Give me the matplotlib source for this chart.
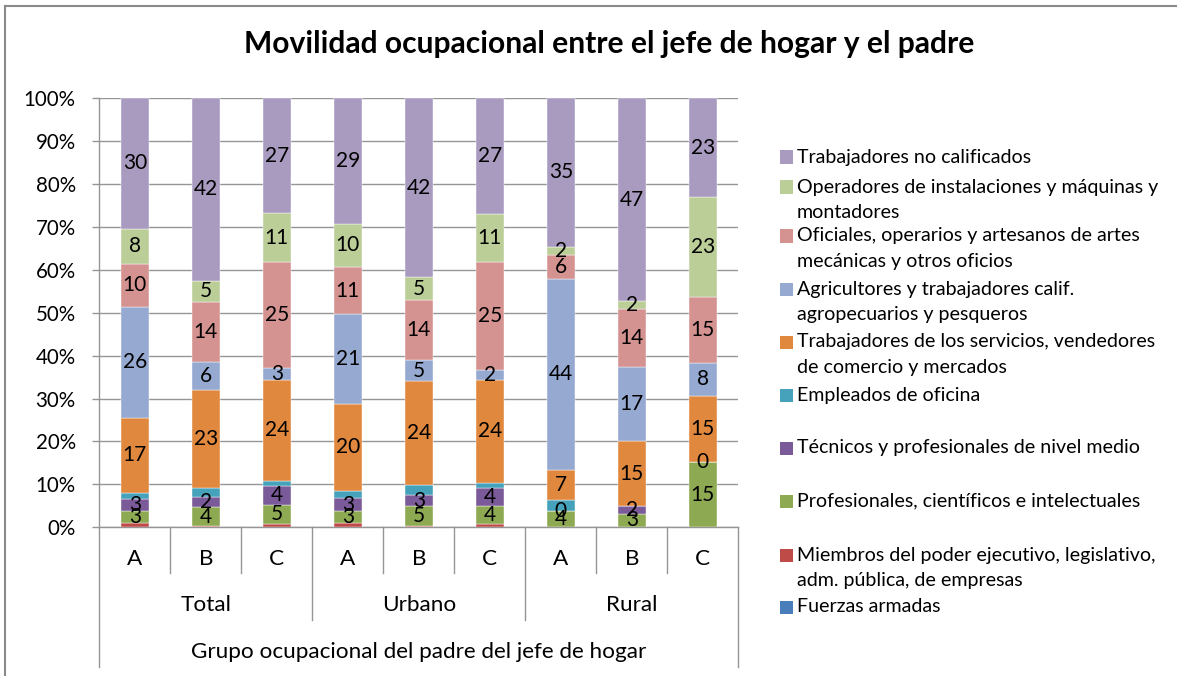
import matplotlib
matplotlib.use("Agg")
import matplotlib.pyplot as plt
import numpy as np
from matplotlib.transforms import blended_transform_factory
from matplotlib.patches import Rectangle
from matplotlib.lines import Line2D

# ---------------- data ----------------
title = "Movilidad ocupacional entre el jefe de hogar y el padre"
xlabel = "Grupo ocupacional del padre del jefe de hogar"
groups = ["Total", "Urbano", "Rural"]
subcats = ["A", "B", "C"]

series_names = [
    "Fuerzas armadas",
    "Miembros del poder ejecutivo, legislativo,\nadm. pública, de empresas",
    "Profesionales, científicos e intelectuales",
    "Técnicos y profesionales de nivel medio",
    "Empleados de oficina",
    "Trabajadores de los servicios, vendedores\nde comercio y mercados",
    "Agricultores y trabajadores calif.\nagropecuarios y pesqueros",
    "Oficiales, operarios y artesanos de artes\nmecánicas y otros oficios",
    "Operadores de instalaciones y máquinas y\nmontadores",
    "Trabajadores no calificados",
]

# values per series, categories: Total A,B,C, Urbano A,B,C, Rural A,B,C
fuerzas       = [0.0, 0.0, 0.0, 0.0, 0.0, 0.0, 0.0, 0.0, 0.0]
miembros      = [0.9, 0.3, 0.7, 1.1, 0.3, 0.8, 0.0, 0.0, 0.0]
profesionales = [2.9, 4.4, 4.6, 2.6, 4.6, 4.1, 3.8, 3.2, 15.2]
tecnicos      = [2.7, 2.4, 4.3, 3.2, 2.6, 4.3, 0.0, 1.7, 0.0]
empleados     = [1.5, 2.1, 1.3, 1.6, 2.3, 1.2, 2.5, 0.0, 0.0]
servicios     = [17.4, 22.8, 23.6, 20.2, 24.2, 23.9, 7.1, 15.1, 15.4]
agricultores  = [25.9, 6.4, 2.7, 20.9, 4.9, 2.4, 44.4, 17.2, 7.7]
oficiales     = [9.9, 14.0, 24.9, 11.1, 14.0, 25.0, 5.7, 13.6, 15.4]
operadores    = [8.2, 4.9, 11.3, 9.9, 5.4, 11.1, 1.8, 1.8, 23.2]
no_calif      = [30.4, 42.4, 27.0, 29.4, 41.8, 27.1, 34.7, 47.3, 23.1]

series_values = [fuerzas, miembros, profesionales, tecnicos, empleados,
                 servicios, agricultores, oficiales, operadores, no_calif]
labeled = [False, False, True, True, False, True, True, True, True, True]

colors = ["#4A7EBB", "#BE4B48", "#8DA951", "#7A5A98", "#46A2BB",
          "#E0883E", "#95A9D1", "#D49391", "#BBCE97", "#A99BBF"]

# ---------------- layout ----------------
W, H = 1177, 676
plt.rcParams['font.family'] = ['Lato', 'DejaVu Sans']
FS_TICK = 14.8
FS_DATA = 15.0
FS_CAT = 16.2
FS_LEG = 14.1
GRAY = "#959595"

fig = plt.figure(figsize=(W / 100, H / 100), dpi=100)
fig.patch.set_facecolor("white")


def fx(x):
    return x / W


def fy(y):
    return 1 - y / H


x0, x1, ytop, ybot = 99.3, 738.3, 98.0, 527.3
ax = fig.add_axes([fx(x0), fy(ybot), (x1 - x0) / W, (ybot - ytop) / H])

vals = np.array(series_values, dtype=float)
totals = vals.sum(axis=0)
pct = vals / totals * 100
ncat = vals.shape[1]
xpos = np.arange(ncat) + 0.5
bottom = np.zeros(ncat)
for s in range(len(series_names)):
    ax.bar(xpos, pct[s], bottom=bottom, width=0.4, color=colors[s],
           edgecolor="white", linewidth=0.3, zorder=3)
    if labeled[s]:
        for i in range(ncat):
            ax.text(xpos[i], bottom[i] + pct[s][i] / 2, f"{vals[s][i]:.0f}",
                    ha="center", va="center", fontsize=FS_DATA, color="black",
                    zorder=5)
    bottom += pct[s]

ax.set_xlim(0, ncat)
ax.set_ylim(0, 100)
ax.set_yticks(np.arange(0, 101, 10))
ax.set_yticklabels([f"{v}%" for v in range(0, 101, 10)])
ax.set_axisbelow(True)
ax.yaxis.grid(True, color=GRAY, linewidth=1.0)
for sp in ["top", "right"]:
    ax.spines[sp].set_visible(False)
for sp in ["left", "bottom"]:
    ax.spines[sp].set_color(GRAY)
    ax.spines[sp].set_linewidth(1.0)
ax.tick_params(axis="y", length=5, width=1.0, color=GRAY, pad=12,
               labelsize=FS_TICK, labelcolor="black")
ax.tick_params(axis="x", bottom=False, labelbottom=False)

# category axis (multi-level)
trans = blended_transform_factory(ax.transData, fig.transFigure)
for k in range(ncat + 1):
    if k in (0, ncat):
        yend = 667
    elif k % 3 == 0:
        yend = 620
    else:
        yend = 573
    fig.add_artist(Line2D([k, k], [fy(ybot), fy(yend)], transform=trans,
                          color=GRAY, linewidth=1.0))
for i in range(ncat):
    fig.text(xpos[i], fy(559), subcats[i % 3], transform=trans,
             ha="center", va="center", fontsize=FS_CAT)
for g, name in enumerate(groups):
    fig.text(g * 3 + 1.5, fy(605), name, transform=trans,
             ha="center", va="center", fontsize=FS_CAT)
fig.text(ncat / 2, fy(652), xlabel, transform=trans,
         ha="center", va="center", fontsize=FS_CAT)

# title
fig.text(fx(609), fy(44), title, ha="center", va="center",
         fontsize=21.6, fontweight="bold")

# legend (reverse order, top = last series)
legend_y = [607, 555, 501, 448, 395, 342, 289, 236, 187, 157]
for s in range(len(series_names)):
    y = legend_y[s]
    fig.add_artist(Rectangle((fx(780), fy(y + 6.5)), 13 / W, 13 / H,
                             transform=fig.transFigure, facecolor=colors[s],
                             edgecolor="none"))
    for j, line in enumerate(series_names[s].split("\n")):
        fig.text(fx(797), fy(y + 25.5 * j), line, ha="left",
                 va="center", fontsize=FS_LEG)

# chart border
fig.add_artist(Line2D([fx(5), fx(5)], [fy(6), 0], transform=fig.transFigure,
                      color="#8A8A8A", linewidth=1.5))
fig.add_artist(Line2D([fx(5), 1], [fy(6), fy(6)], transform=fig.transFigure,
                      color="#8A8A8A", linewidth=1.5))

fig.savefig("out.png", dpi=100)
